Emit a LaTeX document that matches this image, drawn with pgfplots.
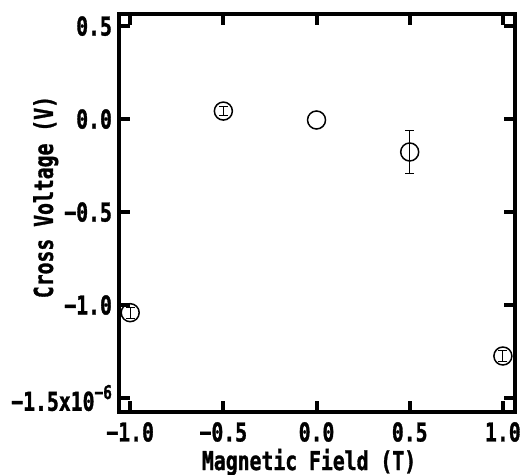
\documentclass[border=0pt]{standalone}
\usepackage{fontspec}
\setmainfont{DejaVu Sans Mono Bold}[FakeStretch=0.76, FakeBold=1.2]
\usepackage{pgfplots}
\pgfplotsset{compat=1.18}
\begin{document}
\begin{tikzpicture}
\begin{axis}[
  scale only axis, width=198pt, height=199pt,
  at={(0,0)}, anchor=south west,
  xmin=-1.06, xmax=1.065, ymin=-1.575, ymax=0.565,
  axis line style={line width=2pt},
  tick style={line width=2pt, black},
  major tick length=5.5pt,
  tick align=inside, tick pos=both,
  xtick={-1,-0.5,0,0.5,1},
  xticklabels={−1.0,−0.5,0.0,0.5,1.0},
  ytick={-1.5,-1,-0.5,0,0.5},
  yticklabels={−1.5x10\raisebox{0.45em}{\fontsize{9.5}{10}\selectfont −6},−1.0,−0.5,0.0,0.5},
  ticklabel style={font=\fontsize{13}{15}\selectfont},
  xticklabel style={anchor=center, yshift=-10pt},
  label style={font=\fontsize{13}{15}\selectfont},
  xlabel={Magnetic Field (T)},
  ylabel={Cross Voltage (V)},
  xlabel style={at={(axis description cs:0.48,-0.126)}, anchor=center},
  ylabel style={at={(axis description cs:-0.185,0.54)}, anchor=center},
]
\addplot[black, only marks, mark=o, mark size=4.5pt, mark options={line width=0.75pt},
  error bars/.cd, y dir=both, y explicit,
  error bar style={line width=0.5pt},
  error mark options={rotate=90, mark size=2.25pt, line width=0.5pt}]
  coordinates {
  (-1.0,-1.041) +- (0,0.03)
  (-0.5,0.043) +- (0,0.022)
  (0.5,-0.177) +- (0,0.118)
  (1.0,-1.274) +- (0,0.027)
  };
\addplot[black, only marks, mark=o, mark size=4.5pt, mark options={line width=0.75pt}]
  coordinates {
  (0.0,-0.005)
  };
\end{axis}
\pgfresetboundingbox
\path[use as bounding box] (-59.5pt,-31.5pt) rectangle (203.5pt,206pt);
\end{tikzpicture}
\end{document}
